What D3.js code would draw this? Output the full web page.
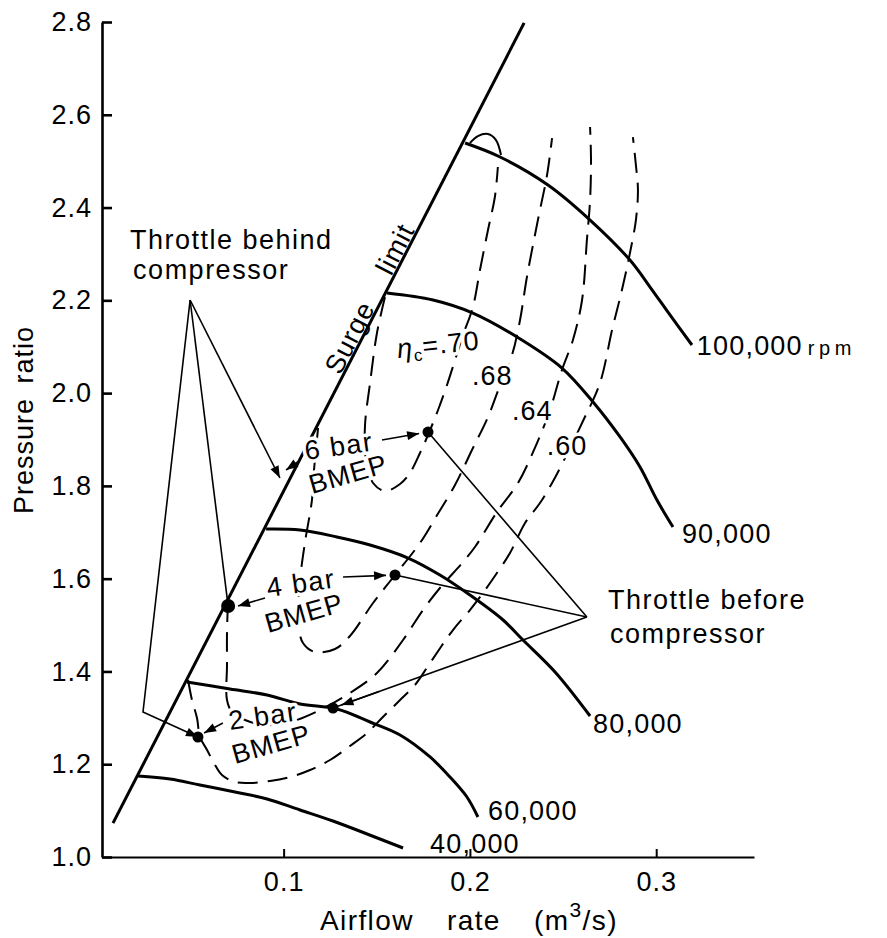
<!DOCTYPE html>
<html><head><meta charset="utf-8">
<script src="https://cdn.jsdelivr.net/npm/d3@7"></script>
<style>
body{margin:0;background:#fff}
svg{display:block;background:#fff}
text{font-family:"Liberation Sans",Arial,sans-serif;fill:#000}
</style></head><body>
<svg id="c" width="887" height="938"></svg>
<script>
// ---------- data ----------
const xTickValues = [0.1, 0.2, 0.3];
const yTickValues = [1.0, 1.2, 1.4, 1.6, 1.8, 2.0, 2.2, 2.4, 2.6, 2.8];

const surgeLimit = [[0.0084, 1.073], [0.2291, 2.798]];

const rpm40k = [[0.0218,1.1746],[0.0390,1.1681],[0.0551,1.1552],[0.0739,1.1401],[0.0911,1.1250],[0.1088,1.1013],[0.1265,1.0776],[0.1448,1.0496],[0.1641,1.0194]];
const rpm60k = [[0.0481,1.3772],[0.0712,1.3621],[0.0911,1.3492],[0.1088,1.3298],[0.1286,1.3190],[0.1464,1.2910],[0.1625,1.2630],[0.1786,1.2156],[0.1893,1.1724],[0.1984,1.1293],[0.2043,1.0862]];
const rpm80k = [[0.0906,1.7070],[0.1088,1.7049],[0.1286,1.6898],[0.1464,1.6725],[0.1668,1.6445],[0.1839,1.6079],[0.2000,1.5648],[0.2178,1.5109],[0.2285,1.4678],[0.2457,1.3988],[0.2645,1.3039]];
const rpm90k = [[0.1555,2.2158],[0.1802,2.2007],[0.2016,2.1726],[0.2253,2.1209],[0.2494,2.0541],[0.2661,1.9808],[0.2806,1.9054],[0.2913,1.8407],[0.3004,1.7695],[0.3090,1.7113]];
const rpm100k = [[0.1974,2.5391],[0.2162,2.5090],[0.2419,2.4486],[0.2645,2.3731],[0.2859,2.2869],[0.2967,2.2287],[0.3074,2.1684],[0.3192,2.1037]];
const hump100k = [[0.2000,2.5391],[0.2043,2.5542],[0.2097,2.5585],[0.2140,2.5455],[0.2167,2.5133]];
const speedNames = ["100,000", "90,000", "80,000", "60,000", "40,000"];
const speedLabelAt = [[0.3218,2.0821],[0.3138,1.6769],[0.2661,1.2673],[0.2097,1.0798],[0.1786,1.0086]];
const speedUnit = "r p m";

const eff70 = [[0.1544,2.2071],[0.1501,2.1295],[0.1464,2.0218],[0.1437,1.9312],[0.1442,1.8558],[0.1480,1.8062],[0.1544,1.7889],[0.1625,1.8040],[0.1678,1.8278],[0.1732,1.8709],[0.1775,1.9097],[0.1829,1.9636],[0.1877,2.0174],[0.1920,2.0713],[0.1963,2.1252],[0.2016,2.1856],[0.2054,2.2653],[0.2097,2.3516],[0.2134,2.4227],[0.2150,2.4874]];
const eff68 = [[0.1185,1.9248],[0.1163,1.8342],[0.1152,1.7695],[0.1115,1.6790],[0.1088,1.5971],[0.1077,1.5109],[0.1104,1.4613],[0.1168,1.4419],[0.1276,1.4484],[0.1356,1.4764],[0.1480,1.5475],[0.1598,1.6079],[0.1732,1.6769],[0.1824,1.7372],[0.1920,1.8019],[0.2011,1.8773],[0.2097,1.9485],[0.2162,2.0174],[0.2226,2.0821],[0.2269,2.1576],[0.2306,2.2503],[0.2365,2.3731],[0.2414,2.4701],[0.2441,2.5499]];
const eff64 = [[0.0701,1.5497],[0.0696,1.4829],[0.0696,1.4139],[0.0696,1.3384],[0.0723,1.3126],[0.0793,1.2953],[0.0900,1.2845],[0.1034,1.2910],[0.1195,1.3169],[0.1356,1.3535],[0.1501,1.3966],[0.1641,1.4678],[0.1748,1.5324],[0.1839,1.5799],[0.1963,1.6359],[0.2027,1.6682],[0.2145,1.7437],[0.2258,1.8062],[0.2360,1.8924],[0.2430,1.9636],[0.2494,2.0498],[0.2553,2.1145],[0.2602,2.2007],[0.2628,2.3300],[0.2645,2.4162],[0.2650,2.5024],[0.2645,2.5736]];
const eff60 = [[0.0487,1.3815],[0.0508,1.3384],[0.0535,1.2996],[0.0551,1.2587],[0.0589,1.2307],[0.0626,1.2026],[0.0669,1.1768],[0.0739,1.1617],[0.0820,1.1595],[0.0927,1.1638],[0.1034,1.1724],[0.1142,1.1875],[0.1249,1.2091],[0.1356,1.2393],[0.1448,1.2673],[0.1533,1.3018],[0.1625,1.3384],[0.1705,1.3708],[0.1786,1.4182],[0.1909,1.4893],[0.2000,1.5324],[0.2070,1.5691],[0.2145,1.6122],[0.2215,1.6553],[0.2296,1.7200],[0.2376,1.7631],[0.2441,1.8062],[0.2500,1.8515],[0.2602,1.9356],[0.2698,2.0218],[0.2763,2.1360],[0.2816,2.2222],[0.2859,2.3020],[0.2891,2.3731],[0.2902,2.4378],[0.2891,2.4917],[0.2875,2.5520]];
const effNames = [".70", ".68", ".64", ".60"];
const effLabelAt = [[0.1614,2.0756],[0.2011,2.0174],[0.2226,1.9420],[0.2413,1.8666]];

// throttle paths (6, 4, 2 bar BMEP)
const behindApex = [0.0498, 2.2007];
const behindPts = [[0.0980,1.8170],[0.0702,1.5411],[0.0540,1.2587]];
const behindBend = [0.0245, 1.3126];
const beforeApex = [0.2628, 1.5173];
const beforePts = [[0.1775,1.9161],[0.1598,1.6079],[0.1265,1.3212]];
const bmepNames = ["6 bar", "4 bar", "2 bar"];
const bmepBarAt = [[0.1120,1.8558],[0.0916,1.5605],[0.0712,1.2738]];
const bmepWordAt = [[0.1152,1.7825],[0.0916,1.4829],[0.0739,1.2005]];
const labelArrowFrom = [[0.1528,1.8989],[0.1319,1.6036]];          // "6 bar →", "4 bar →"
const smallArrows = [[[0.1083,1.8536],[0.1013,1.8342]],[[0.0900,1.5583],[0.0755,1.5411]],[[0.0674,1.2889],[0.0573,1.2673]]];

// ---------- drawing ----------
const svg = d3.select('#c');
const x = d3.scaleLinear().domain([0.0025, 0.3525]).range([102, 754]);
const y = d3.scaleLinear().domain([1.0, 2.8]).range([857, 22]);
const FS = 27;

const defs = svg.append('defs');
defs.append('marker').attr('id','ah').attr('viewBox','0 -5 12 10').attr('refX',12).attr('refY',0)
  .attr('markerUnits','userSpaceOnUse').attr('markerWidth',13).attr('markerHeight',10).attr('orient','auto')
  .append('path').attr('d','M0,-4.5L12,0L0,4.5Z').attr('fill','#000');

// axes
const yAxis = d3.axisLeft(y).tickValues(yTickValues).tickFormat(d3.format('.1f'))
  .tickSize(-10).tickSizeOuter(0).tickPadding(10);
const gy = svg.append('g').attr('transform','translate(102,0)').call(yAxis)
  .attr('font-size', null).attr('font-family', null);
gy.select('.domain').attr('stroke-width', 2.6);
gy.selectAll('.tick line').attr('stroke-width', 2.6);
gy.selectAll('.tick text').attr('font-size', FS).attr('letter-spacing', 1);

const xAxis = d3.axisBottom(x).tickValues(xTickValues).tickFormat(d3.format('.1f'))
  .tickSize(-8).tickSizeOuter(0).tickPadding(15);
const gx = svg.append('g').attr('transform','translate(0,857)').call(xAxis)
  .attr('font-size', null).attr('font-family', null);
gx.select('.domain').attr('stroke-width', 2.2);
gx.selectAll('.tick line').attr('stroke-width', 2);
gx.selectAll('.tick text').attr('font-size', FS).attr('letter-spacing', 1);

// axis titles
svg.append('text').attr('transform','translate(33,420) rotate(-90)').attr('text-anchor','middle')
  .attr('font-size', FS).attr('letter-spacing', 1).attr('word-spacing', 6).text('Pressure ratio');
const xt = svg.append('text').attr('x', 320).attr('y', 930).attr('font-size', FS + 1)
  .attr('letter-spacing', 1.4).attr('word-spacing', 24);
xt.append('tspan').text('Airflow rate (m');
xt.append('tspan').attr('dy', -13).attr('font-size', 21).text('3');
xt.append('tspan').attr('dy', 13).text('/s)');

const smooth = d3.line().x(d => x(d[0])).y(d => y(d[1])).curve(d3.curveCatmullRom.alpha(0.5));
const straight = d3.line().x(d => x(d[0])).y(d => y(d[1]));

// efficiency contours (dashed)
[eff70, eff68, eff64, eff60].forEach(c => {
  svg.append('path').attr('d', smooth(c)).attr('fill','none').attr('stroke','#000')
    .attr('stroke-width', 2).attr('stroke-dasharray','20,10');
});

// thin throttle lines
const thin = (pts, marker) => {
  const p = svg.append('path').attr('d', straight(pts)).attr('fill','none').attr('stroke','#000').attr('stroke-width',1.6);
  if (marker) p.attr('marker-end','url(#ah)');
  return p;
};
thin([behindApex, behindPts[0]], true);
thin([behindApex, behindPts[1]], false);
thin([behindApex, behindBend, behindPts[2]], true);
beforePts.forEach(p => thin([beforeApex, p], false));

// surge limit and speed lines
svg.append('path').attr('d', straight(surgeLimit)).attr('fill','none').attr('stroke','#000').attr('stroke-width',3);
[rpm100k, rpm90k, rpm80k, rpm60k, rpm40k].forEach(c => {
  svg.append('path').attr('d', smooth(c)).attr('fill','none').attr('stroke','#000').attr('stroke-width',3);
});
svg.append('path').attr('d', smooth(hump100k)).attr('fill','none').attr('stroke','#000').attr('stroke-width',2);

// helper: arrow along a segment, ending "gap" px before target
function arrowTo(from, to, gap, len) {
  const x1 = x(from[0]), y1 = y(from[1]), x2 = x(to[0]), y2 = y(to[1]);
  const L = Math.hypot(x2 - x1, y2 - y1), ux = (x2 - x1) / L, uy = (y2 - y1) / L;
  const ex = x2 - ux * gap, ey = y2 - uy * gap;
  const sx = len ? ex - ux * len : x1, sy = len ? ey - uy * len : y1;
  svg.append('line').attr('x1', sx).attr('y1', sy).attr('x2', ex).attr('y2', ey)
    .attr('stroke','#000').attr('stroke-width',1.6).attr('marker-end','url(#ah)');
}

// labels with white halo (they interrupt lines as in the original)
const halo = sel => sel.attr('stroke','#fff').attr('stroke-width',7).attr('stroke-linejoin','round').attr('paint-order','stroke');

bmepNames.forEach((n, i) => {
  halo(svg.append('text').attr('transform', `translate(${x(bmepBarAt[i][0])},${y(bmepBarAt[i][1])}) rotate(-8)`)
    .attr('font-size', FS).attr('letter-spacing', 1.5).text(n));
  halo(svg.append('text').attr('transform', `translate(${x(bmepWordAt[i][0])},${y(bmepWordAt[i][1])}) rotate(-16)`)
    .attr('font-size', FS).attr('letter-spacing', 1).text('BMEP'));
});

effNames.forEach((n, i) => {
  const t = svg.append('text').attr('transform', `translate(${x(effLabelAt[i][0])},${y(effLabelAt[i][1])})${i === 0 ? ' rotate(-6)' : ''}`)
    .attr('font-size', FS).attr('letter-spacing', 1);
  halo(t);
  if (i === 0) {
    t.append('tspan').attr('font-style','italic').text('η');
    t.append('tspan').attr('dy', 5).attr('font-size', 17).text('c');
    t.append('tspan').attr('dy', -5).text('=' + n);
  } else t.text(n);
});

// arrows from BMEP labels to operating points
arrowTo(labelArrowFrom[0], beforePts[0], 9, 0);
arrowTo(labelArrowFrom[1], beforePts[1], 9, 0);
arrowTo(beforeApex, beforePts[2], 9, 40);
smallArrows.forEach(a => arrowTo(a[0], a[1], 0, 0));

// operating points
svg.selectAll('circle.op').data(beforePts.concat(behindPts.slice(1))).join('circle')
  .attr('cx', d => x(d[0])).attr('cy', d => y(d[1])).attr('r', (d, i) => i === 3 ? 7 : 5.5).attr('fill', '#000');

// surge limit text
const sa = surgeLimit;
const ang = Math.atan2(y(sa[1][1]) - y(sa[0][1]), x(sa[1][0]) - x(sa[0][0])) * 180 / Math.PI;
svg.append('text').attr('transform', `translate(${x(0.1304)},${y(2.0368)}) rotate(${ang})`)
  .attr('font-size', FS).attr('letter-spacing', 1).attr('word-spacing', 26).text('Surge limit');

// speed labels
speedNames.forEach((n, i) => {
  const t = svg.append('text').attr('x', x(speedLabelAt[i][0])).attr('y', y(speedLabelAt[i][1]))
    .attr('font-size', FS).attr('letter-spacing', 1.2).text(n);
  if (i === 0) t.append('tspan').attr('dx', 5).attr('font-size', 20).attr('letter-spacing', 0)
    .attr('word-spacing', -1).text(speedUnit);
});

// throttle text
const txt = (s, px, py) => svg.append('text').attr('x', x(px)).attr('y', y(py)).attr('font-size', FS).attr('letter-spacing', 1.5).text(s);
txt('Throttle behind', 0.0175, 2.3107);
txt('compressor', 0.0192, 2.2459);
txt('Throttle before', 0.2741, 1.5346);
txt('compressor', 0.2752, 1.4613);
</script>
</body></html>
